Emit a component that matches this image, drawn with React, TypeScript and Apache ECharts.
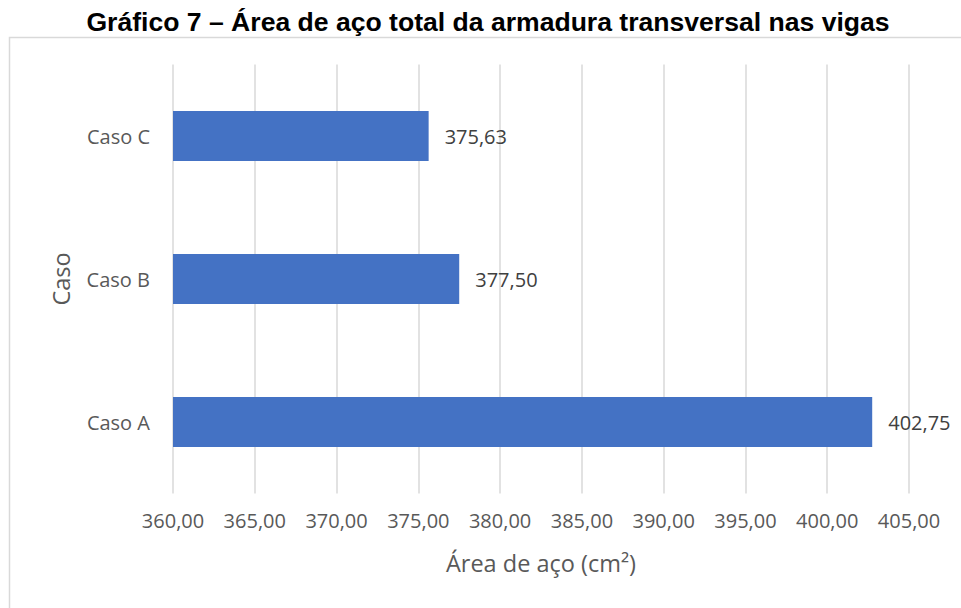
import React, { useEffect, useRef } from "react";
import * as echarts from "echarts";

const titleText = "Gráfico 7 – Área de aço total da armadura transversal nas vigas";
const categories = ["Caso A", "Caso B", "Caso C"];
const values = [402.75, 377.5, 375.63];
const xMin = 360;
const xMax = 405;
const xStep = 5;
const xAxisName = "Área de aço (cm²)";
const yAxisName = "Caso";

const fmt = (v: number) => v.toFixed(2).replace(".", ",");
const FONT = "'Open Sans', Lato, sans-serif";

export default function App() {
  const ref = useRef<HTMLDivElement>(null);
  useEffect(() => {
    if (!ref.current) return;
    const chart = echarts.init(ref.current, null, { renderer: "svg" });
    chart.setOption({
      animation: false,
      backgroundColor: "#ffffff",
      graphic: [
        {
          type: "rect",
          shape: { x: 9.5, y: 37.5, width: 970, height: 600 },
          style: { fill: "none", stroke: "#d9d9d9", lineWidth: 1.5 },
          silent: true,
        },
        {
          type: "text",
          x: 488,
          y: 22,
          scaleX: 1.05,
          style: {
            text: titleText,
            fontFamily: "'Liberation Sans', Arial, sans-serif",
            fontWeight: "bold",
            fontSize: 25.3,
            fill: "#000000",
            align: "center",
            verticalAlign: "middle",
          },
        },
      ],
      grid: { left: 173, right: 52, top: 64.5, bottom: 114.5, containLabel: false },
      xAxis: {
        type: "value",
        min: xMin,
        max: xMax,
        interval: xStep,
        name: xAxisName,
        nameLocation: "middle",
        nameGap: 57,
        nameTextStyle: { fontFamily: FONT, fontSize: 23.5, color: "#595959" },
        axisLine: { show: false },
        axisTick: { show: false },
        axisLabel: {
          formatter: (v: number) => fmt(v),
          fontFamily: FONT,
          fontSize: 20,
          color: "#595959",
          margin: 17,
        },
        splitLine: { show: true, lineStyle: { color: "#d9d9d9", width: 1.5 } },
      },
      yAxis: {
        type: "category",
        data: categories,
        name: yAxisName,
        nameLocation: "middle",
        nameGap: 100,
        nameRotate: 90,
        nameTextStyle: { fontFamily: FONT, fontSize: 23.5, color: "#595959" },
        axisLine: { show: false },
        axisTick: { show: false },
        axisLabel: {
          fontFamily: FONT,
          fontSize: 20,
          color: "#595959",
          margin: 23,
        },
        splitLine: { show: false },
      },
      series: [
        {
          type: "bar",
          data: values,
          barWidth: 50,
          itemStyle: { color: "#4472c4" },
          label: {
            show: true,
            position: "right",
            distance: 16,
            formatter: (p: any) => fmt(p.value),
            fontFamily: FONT,
            fontSize: 20,
            color: "#404040",
          },
        },
      ],
    });
    return () => chart.dispose();
  }, []);
  return (
    <div
      ref={ref}
      style={{ position: "fixed", left: 0, top: 0, width: 961, height: 608 }}
    />
  );
}
